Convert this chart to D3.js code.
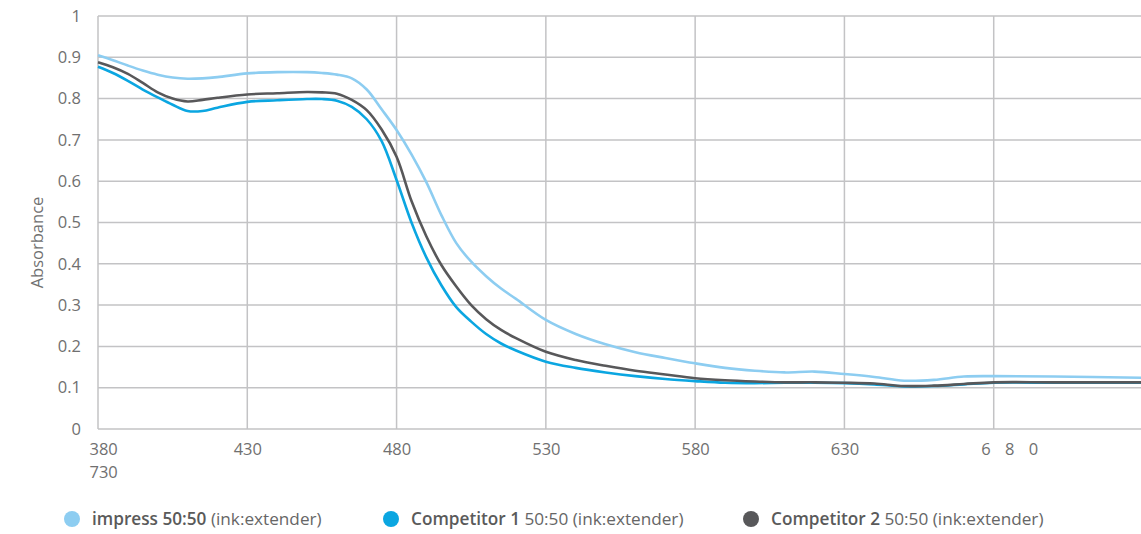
<!DOCTYPE html>
<html>
<head>
<meta charset="utf-8">
<script src="https://cdn.jsdelivr.net/npm/d3@7"></script>
<style>
  html, body { margin: 0; padding: 0; background: #fff; }
  svg { display: block; font-family: "Open Sans", "Noto Sans", sans-serif; }
</style>
</head>
<body>
<svg id="chart" width="1141" height="534"></svg>
<script>
const wavelengths = [380,385,390,395,400,405,410,415,420,430,440,450,455,460,465,470,475,480,485,490,495,500,505,510,515,520,530,540,550,560,570,580,590,600,610,620,630,640,650,660,670,680,700,730];
const impress = [0.905,0.893,0.880,0.868,0.858,0.851,0.848,0.849,0.852,0.861,0.864,0.864,0.862,0.858,0.849,0.822,0.774,0.724,0.665,0.597,0.518,0.450,0.405,0.370,0.340,0.315,0.264,0.230,0.205,0.186,0.172,0.159,0.148,0.141,0.137,0.139,0.133,0.126,0.117,0.119,0.127,0.128,0.127,0.124];
const competitor1 = [0.877,0.862,0.843,0.822,0.803,0.785,0.770,0.770,0.778,0.792,0.796,0.799,0.799,0.795,0.780,0.750,0.697,0.603,0.500,0.415,0.348,0.295,0.260,0.230,0.207,0.190,0.163,0.148,0.137,0.128,0.121,0.116,0.112,0.111,0.112,0.112,0.111,0.108,0.103,0.104,0.108,0.112,0.112,0.112];
const competitor2 = [0.888,0.876,0.860,0.838,0.815,0.800,0.793,0.797,0.802,0.810,0.813,0.816,0.815,0.812,0.797,0.772,0.725,0.659,0.552,0.466,0.397,0.345,0.300,0.266,0.240,0.220,0.187,0.167,0.153,0.141,0.132,0.123,0.118,0.115,0.113,0.113,0.112,0.110,0.104,0.105,0.109,0.113,0.113,0.113];

const xTicks = [380,430,480,530,580,630,680];
const xTickLabels = ["380","430","480","530","580","630","6 8 0"];
const xWrapLabel = "730";
const yTicks = [0,0.1,0.2,0.3,0.4,0.5,0.6,0.7,0.8,0.9,1];
const yTickLabels = ["0","0.1","0.2","0.3","0.4","0.5","0.6","0.7","0.8","0.9","1"];
const yTitle = "Absorbance";

const seriesBold = ["impress 50:50", "Competitor 1", "Competitor 2"];
const seriesRest = [" (ink:extender)", " 50:50 (ink:extender)", " 50:50 (ink:extender)"];
const seriesColors = ["#8dcdf1", "#0ba6e1", "#58585a"];
const seriesValues = [impress, competitor1, competitor2];

const svg = d3.select("#chart");
const x = d3.scaleLinear().domain([380, 730]).range([98, 1143]);
const y = d3.scaleLinear().domain([0, 1]).range([429, 16]);
const gridColor = "#c3c3c5";
const textColor = "#707070";
const tickFont = "16.5px";

// horizontal gridlines
svg.append("g").selectAll("line").data(yTicks).join("line")
  .attr("x1", x(380)).attr("x2", x(730))
  .attr("y1", d => y(d)).attr("y2", d => y(d))
  .attr("stroke", gridColor).attr("stroke-width", 1.5);
// vertical gridlines
svg.append("g").selectAll("line").data(xTicks).join("line")
  .attr("x1", d => x(d)).attr("x2", d => x(d))
  .attr("y1", y(1)).attr("y2", y(0))
  .attr("stroke", gridColor).attr("stroke-width", 1.5);

// y axis labels
const yAxis = d3.axisLeft(y).tickValues(yTicks).tickSize(0).tickPadding(17)
  .tickFormat((d, i) => yTickLabels[i]);
const gy = svg.append("g").attr("transform", `translate(${x(380)},0)`).call(yAxis);
gy.select(".domain").remove();
gy.selectAll("text").attr("fill", textColor).style("font-size", tickFont)
  .style("font-family", "'Open Sans', sans-serif");

// x axis labels
const xAxis = d3.axisBottom(x).tickValues(xTicks).tickSize(0).tickPadding(14)
  .tickFormat((d, i) => xTickLabels[i]);
const gx = svg.append("g").attr("transform", `translate(0,${y(0)})`).call(xAxis);
gx.select(".domain").remove();
gx.selectAll("text").attr("fill", textColor).style("font-size", tickFont)
  .style("font-family", "'Open Sans', sans-serif")
  .style("white-space", "pre");
gx.selectAll(".tick").filter(d => d === 380).select("text")
  .attr("text-anchor", "start").attr("dx", -9);
gx.selectAll(".tick").filter(d => d === 680).select("text")
  .attr("text-anchor", "start").attr("dx", -13).style("letter-spacing", "5px");
// wrapped last label
gx.selectAll(".tick").filter(d => d === 380).append("text")
  .attr("x", 0).attr("dx", -9).attr("y", 37).attr("dy", "0.71em")
  .attr("text-anchor", "start").attr("fill", textColor)
  .style("font-size", tickFont).style("font-family", "'Open Sans', sans-serif")
  .text(xWrapLabel);

// y title
svg.append("text")
  .attr("transform", `translate(43,${(y(0) + y(1)) / 2 + 20}) rotate(-90)`)
  .attr("text-anchor", "middle").attr("fill", textColor)
  .style("font-size", "16.5px").text(yTitle);

// lines
const line = d3.line().curve(d3.curveCatmullRom.alpha(0.5))
  .x((d, i) => x(wavelengths[i])).y(d => y(d));
svg.append("g").selectAll("path").data([0, 1, 2]).join("path")
  .attr("d", k => line(seriesValues[k]))
  .attr("fill", "none").attr("stroke", k => seriesColors[k])
  .attr("stroke-width", 2.6).attr("stroke-linejoin", "round");

// legend
const legendX = [72, 391, 751];
const lg = svg.append("g").selectAll("g").data([0, 1, 2]).join("g")
  .attr("transform", k => `translate(${legendX[k]},519)`);
lg.append("circle").attr("r", 8).attr("fill", k => seriesColors[k]);
const lt = lg.append("text").attr("x", 20).attr("y", 6)
  .style("font-size", "17.2px").attr("fill", "#666");
lt.append("tspan").style("font-weight", 600).attr("fill", "#5a5a5a").text(k => seriesBold[k]);
lt.append("tspan").style("white-space", "pre").text(k => seriesRest[k]);
</script>
</body>
</html>
